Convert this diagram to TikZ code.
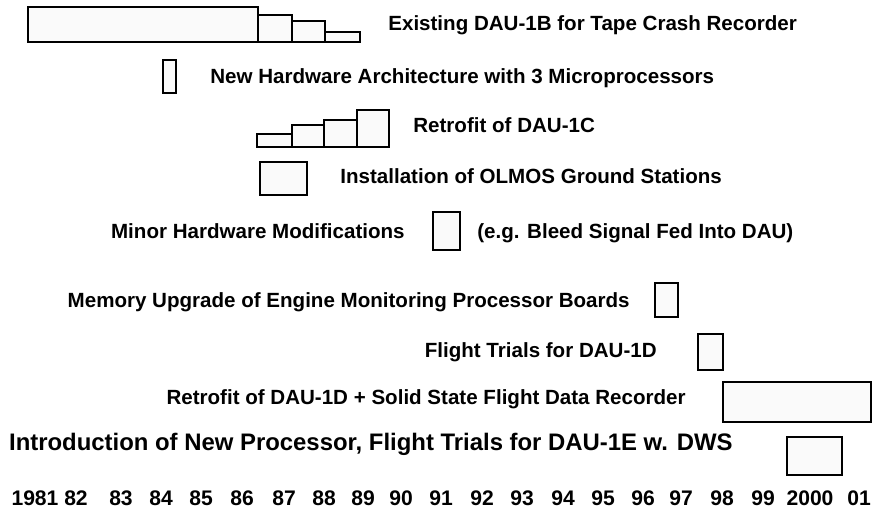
\documentclass[tikz,border=0pt]{standalone}
\usepackage{fontspec}
\setmainfont{Liberation Sans}
\usetikzlibrary{positioning}
\begin{document}
\begin{tikzpicture}[
  x=0.02cm, y=-0.02cm,
  bar/.style = {draw, line width=1.5pt, fill=gray!4},
  task/.style = {font=\fontsize{11.7}{13}\selectfont\bfseries, inner sep=0pt, anchor=base west},
  big/.style = {font=\fontsize{13.6}{15}\selectfont\bfseries, inner sep=0pt, anchor=base east},
  year/.style = {font=\fontsize{12}{14}\selectfont\bfseries, inner sep=0pt, anchor=base}
  ]
  \useasboundingbox (0,0) rectangle (874,515);

  % DAU-1B
  \draw[bar] (28,7) rectangle (258,42);
  \draw[bar] (258,15) rectangle (292,42);
  \draw[bar] (292,21) rectangle (325,42);
  \draw[bar] (325,32) rectangle (360,42);
  \node[task] (dau1b) at (388,30) {Existing DAU-1B for Tape Crash Recorder};

  \draw[bar] (163,60) rectangle (176,93);
  \node[task] (hw) at (210,83) {New Hardware Architecture with 3 Microprocessors};

  % DAU-1C
  \draw[bar] (257,134) rectangle (292,147);
  \draw[bar] (292,125) rectangle (324,147);
  \draw[bar] (324,120) rectangle (357,147);
  \draw[bar] (357,110) rectangle (389,147);
  \node[task] (dau1c) at (413,132) {Retrofit of DAU-1C};

  \draw[bar] (260,162) rectangle (307,195);
  \node[task] (olmos) at (340,183) {Installation of OLMOS Ground Stations};

  \draw[bar] (433,212) rectangle (460,250);
  \node[task,anchor=base east] (minor) at (405,238) {Minor Hardware Modifications};
  \node[task] (bleed) at (477,238) {(e.g. Bleed Signal Fed Into DAU)};

  \draw[bar] (655,283) rectangle (678,317);
  \node[task,anchor=base east] (memory) at (630,307) {Memory Upgrade of Engine Monitoring Processor Boards};

  \draw[bar] (698,334) rectangle (723,370);
  \node[task,anchor=base east] (trials) at (657,357) {Flight Trials for DAU-1D};

  \draw[bar] (723,382) rectangle (871,422);
  \node[task,anchor=base east] (dau1d) at (686,404) {Retrofit of DAU-1D + Solid State Flight Data Recorder};

  % DAU-1E
  \draw[bar] (787,437) rectangle (842,475);
  \node[big] (dau1e) at (733,450) {Introduction of New Processor, Flight Trials for DAU-1E w. DWS};

  % years
  \foreach \yr/\px in {1981/35,82/76,83/121,84/161,85/201,86/242,87/284,88/324,89/363,90/401,
    91/441,92/482,93/522,94/563,95/603,96/643,97/681,98/722,99/763,2000/810,01/859}
    \node[year] (y\yr) at (\px,505) {\yr};
\end{tikzpicture}
\end{document}
